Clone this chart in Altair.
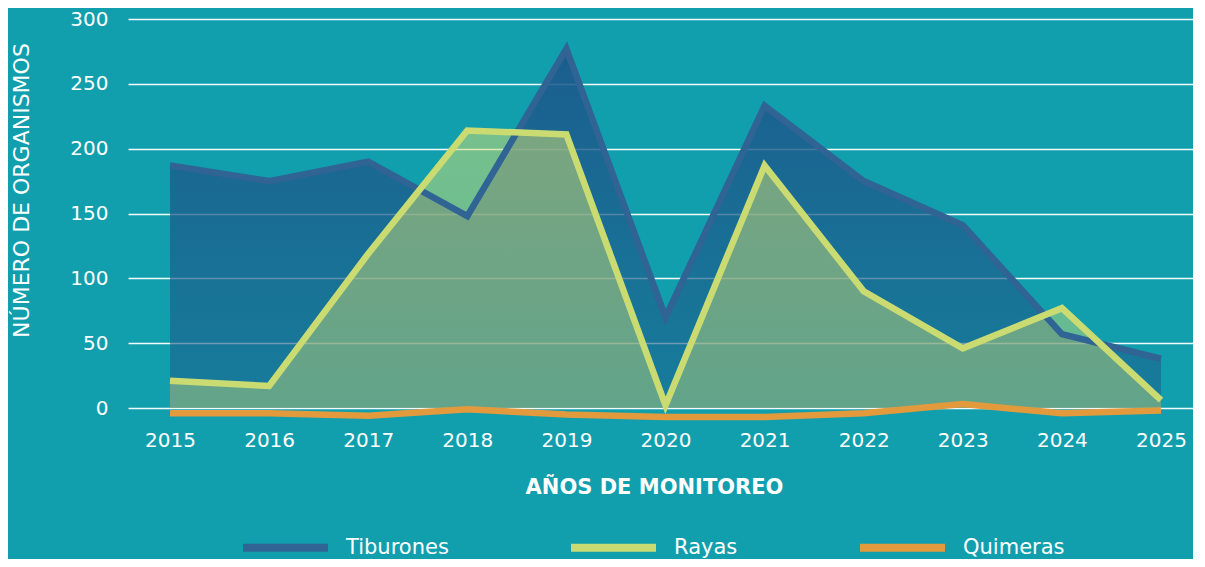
import altair as alt
import pandas as pd

years = list(range(2015, 2026))
tiburones = [187, 175, 190, 148, 277, 70, 233, 175, 141, 57, 38]
rayas = [21, 17, 119, 214, 211, 2, 187, 90, 46, 77, 6]
quimeras = [-4, -4, -6, -1, -5, -7, -7, -4, 3, -4, -2]
series = ["Tiburones", "Rayas", "Quimeras"]
colors = ["#2f6494", "#cadb72", "#e39a3c"]
y_ticks = [0, 50, 100, 150, 200, 250, 300]

rows = []
for name, vals in zip(series, [tiburones, rayas, quimeras]):
    for yr, v in zip(years, vals):
        rows.append({"Año": yr, "Valor": v, "Serie": name})
df = pd.DataFrame(rows)

FONT = "DejaVu Sans"

x_scale = alt.Scale(domain=[2014.576, 2025.323], nice=False, zero=False)
y_scale = alt.Scale(domain=[0, 300], nice=False, zero=False)

x_enc = alt.X(
    "Año:Q",
    scale=x_scale,
    axis=alt.Axis(
        values=years,
        format="d",
        grid=False,
        domain=False,
        ticks=False,
        tickSize=0,
        labelFontSize=20,
        labelColor="white",
        labelFont=FONT,
        labelPadding=22,
        labelFlush=False,
        title="AÑOS DE MONITOREO",
        titleFont=FONT,
        titleFontSize=21,
        titleFontWeight="bold",
        titleColor="white",
        titleX=526,
        titleY=85,
        titleAlign="center",
        titleBaseline="alphabetic",
    ),
)

y_enc = alt.Y(
    "Valor:Q",
    scale=y_scale,
    axis=alt.Axis(
        values=y_ticks,
        domain=False,
        ticks=False,
        tickSize=0,
        grid=True,
        gridColor="white",
        gridWidth=1.6,
        gridOpacity=0.95,
        labelFontSize=20,
        labelColor="white",
        labelFont=FONT,
        labelPadding=20,
        title="NÚMERO DE ORGANISMOS",
        titleFont=FONT,
        titleFontSize=22,
        titleFontWeight="normal",
        titleColor="white",
        titleAngle=270,
        titleX=-100,
        titleY=171,
        titleAlign="center",
        titleBaseline="alphabetic",
    ),
)

tib_grad = alt.Gradient(
    gradient="linear",
    stops=[
        alt.GradientStop(color="rgba(28,86,138,0.9)", offset=0),
        alt.GradientStop(color="rgba(28,96,140,0.55)", offset=1),
    ],
    x1=1, x2=1, y1=0, y2=1,
)
ray_grad = alt.Gradient(
    gradient="linear",
    stops=[
        alt.GradientStop(color="rgba(202,219,114,0.55)", offset=0),
        alt.GradientStop(color="rgba(202,219,114,0.42)", offset=1),
    ],
    x1=1, x2=1, y1=0, y2=1,
)

base = alt.Chart(df)

area_tib = base.transform_filter(alt.datum.Serie == "Tiburones").mark_area(
    color=tib_grad, clip=False
).encode(x=x_enc, y=y_enc)

area_ray = base.transform_filter(alt.datum.Serie == "Rayas").mark_area(
    color=ray_grad, clip=False
).encode(x=alt.X("Año:Q", scale=x_scale), y=alt.Y("Valor:Q", scale=y_scale))

lines = base.mark_line(strokeWidth=6.5, clip=False).encode(
    x=alt.X("Año:Q", scale=x_scale),
    y=alt.Y("Valor:Q", scale=y_scale),
    color=alt.Color(
        "Serie:N",
        scale=alt.Scale(domain=series, range=colors),
        sort=series,
        legend=alt.Legend(
            title=None,
            orient="none",
            legendX=111,
            legendY=482,
            direction="horizontal",
            symbolType="stroke",
            symbolSize=7225,
            symbolStrokeWidth=8,
            symbolOpacity=1,
            labelFontSize=21,
            labelFont=FONT,
            labelColor="white",
            labelOffset=14,
            columnPadding=106,
            padding=0,
        ),
    ),
    order=alt.Order("Serie:N"),
)

chart = (
    alt.layer(area_tib, area_ray, lines)
    .properties(
        width=1065,
        height=389,
        autosize=alt.AutoSizeParams(type="none"),
        padding={"left": 120, "top": 11, "right": 0, "bottom": 151},
        background="#119fae",
    )
    .configure_view(stroke=None)
)

chart.save("out.html", embed_options={"renderer": "svg", "actions": False})
